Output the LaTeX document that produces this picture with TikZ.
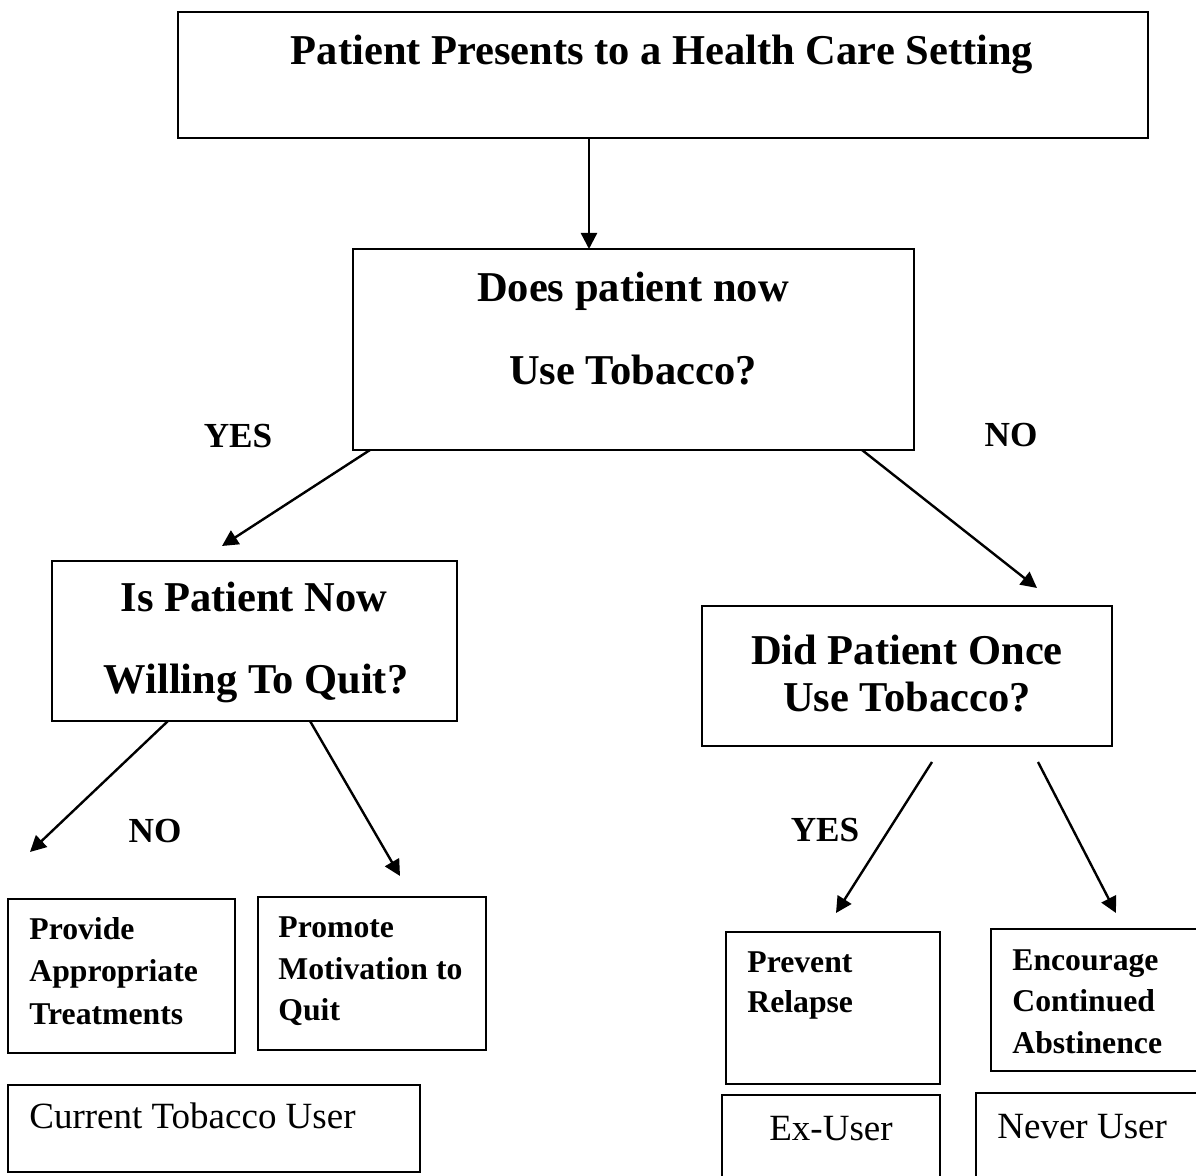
\documentclass[tikz,border=0pt]{standalone}
\usepackage{fontspec}
\setmainfont{Liberation Serif}
\usetikzlibrary{arrows.meta,fit}

\tikzset{
  box/.style = {draw, line width = 1.1pt, inner sep = 0pt},
  arr/.style = {-{Triangle[length = 8pt, width = 8pt]}, line width = 1.2pt},
  big/.style = {inner sep = 0pt, anchor = base, font = \fontsize{21.25}{25}\selectfont\bfseries},
  tag/.style = {inner sep = 0pt, anchor = base, font = \fontsize{17.6}{21}\selectfont\bfseries},
  act/.style = {inner sep = 0pt, anchor = base west, font = \fontsize{15.85}{19}\selectfont\bfseries},
  kind/.style = {inner sep = 0pt, font = \fontsize{18.5}{22}\selectfont}
}

\begin{document}
\begin{tikzpicture}[x = 0.5pt, y = -0.5pt]
\useasboundingbox (0, 0) rectangle (1196, 1176);
\clip (0, 0) rectangle (1196, 1176);

% boxes
\node[box, fit = {(178, 12) (1148, 138)}] (present) {};
\node[box, fit = {(353, 249) (914, 450)}] (usenow) {};
\node[box, fit = {(52, 561) (457, 721)}] (willing) {};
\node[box, fit = {(702, 606) (1112, 746)}] (once) {};
\node[box, fit = {(8, 899) (235, 1053)}] (provide) {};
\node[box, fit = {(258, 897) (486, 1050)}] (promote) {};
\node[box, fit = {(726, 932) (940, 1084)}] (prevent) {};
\node[box, fit = {(991, 929) (1210, 1071)}] (encourage) {};
\node[box, fit = {(8, 1085) (420, 1172)}] (current) {};
\node[box, fit = {(722, 1095) (940, 1190)}] (exuser) {};
\node[box, fit = {(976, 1093) (1210, 1190)}] (never) {};

% questions
\node[big] (present-t) at (662, 65) {Patient Presents to a Health Care Setting};
\node[big] (usenow-t1) at (633, 302) {Does patient now};
\node[big] (usenow-t2) at (633, 385) {Use Tobacco?};
\node[big] (willing-t1) at (254, 612) {Is Patient Now};
\node[big] (willing-t2) at (256, 694) {Willing To Quit?};
\node[big] (once-t1) at (907, 665) {Did Patient Once};
\node[big] (once-t2) at (907, 712) {Use Tobacco?};

% answers
\node[tag] (yes1) at (238, 448) {YES};
\node[tag] (no1) at (1011, 447) {NO};
\node[tag] (no2) at (155, 843) {NO};
\node[tag] (yes2) at (825, 842) {YES};

% actions
\foreach \t [count = \i] in {Provide, Appropriate, Treatments}
    \node[act] (provide-\i) at (29, 897 + 42.5*\i) {\t};
\foreach \t [count = \i] in {Promote, Motivation to, Quit}
    \node[act] (promote-\i) at (278, 895 + 42*\i) {\t};
\foreach \t [count = \i] in {Prevent, Relapse}
    \node[act] (prevent-\i) at (747, 931 + 41*\i) {\t};
\foreach \t [count = \i] in {Encourage, Continued, Abstinence}
    \node[act] (encourage-\i) at (1012, 929 + 41.5*\i) {\t};

% kinds of user
\node[kind, anchor = base west] (current-t) at (29, 1128) {Current Tobacco User};
\node[kind, anchor = base] (exuser-t) at (831, 1140) {Ex-User};
\node[kind, anchor = base west] (never-t) at (997, 1138) {Never User};

% arrow ends
\foreach \n/\x/\y in {a0/589/138, a1/589/249,
                      b0/370/450, b1/222/546,
                      c0/862/450, c1/1037/588,
                      d0/168/721, d1/30/852,
                      e0/310/721, e1/400/876,
                      f0/932/762, f1/836/913,
                      g0/1038/762, g1/1116/913}
    \coordinate (\n) at (\x, \y);

\draw[arr] (a0) -- (a1);
\draw[arr] (b0) -- (b1);
\draw[arr] (c0) -- (c1);
\draw[arr] (d0) -- (d1);
\draw[arr] (e0) -- (e1);
\draw[arr] (f0) -- (f1);
\draw[arr] (g0) -- (g1);
\end{tikzpicture}
\end{document}
